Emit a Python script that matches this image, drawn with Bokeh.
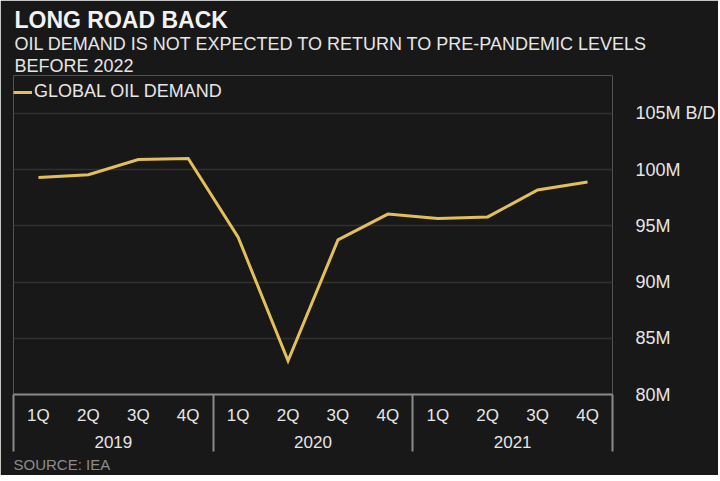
from bokeh.plotting import figure
from bokeh.models import (Range1d, LinearAxis, FixedTicker, Title, Grid,
                          Legend, LegendItem, ColumnDataSource)
from bokeh.embed import file_html
from bokeh.resources import INLINE

# ---- data ----
years = ["2019", "2020", "2021"]
quarters = ["1Q", "2Q", "3Q", "4Q"]
demand = [99.3, 99.55, 100.9, 101.0, 94.0, 83.0, 93.75, 96.05, 95.65, 95.8, 98.2, 98.9]
y_ticks = [80, 85, 90, 95, 100, 105]
y_labels = ["80M", "85M", "90M", "95M", "100M", "105M B/D"]
title_text = "LONG ROAD BACK"
subtitle_lines = ["OIL DEMAND IS NOT EXPECTED TO RETURN TO PRE-PANDEMIC LEVELS", "BEFORE 2022"]
series_name = "GLOBAL OIL DEMAND"
source_text = "SOURCE: IEA"

nq = len(quarters)
n = len(years) * nq
xs = [i + 0.5 for i in range(n)]                      # slot centres
q_labels = {x: quarters[i % nq] for i, x in enumerate(xs)}
year_pos = [g * nq + nq / 2 for g in range(len(years))]
year_labels = dict(zip(year_pos, years))
group_bounds = [g * nq for g in range(len(years) + 1)]

BG = "#181818"
FONT = "Liberation Sans"
TXT = "#e6e6e6"
GOLD = "#e3bf5a"
BOX = "#8a8a8a"

src = ColumnDataSource(dict(x=xs, y=demand))

p = figure(x_range=Range1d(0, n), y_range=Range1d(80, 108.38),
           frame_width=599, frame_height=319,
           min_border_left=13, min_border_right=100, min_border_top=75, min_border_bottom=0,
           output_backend="svg", toolbar_location=None, title=None,
           x_axis_location=None, y_axis_location="right",
           background_fill_color=BG, border_fill_color=BG, outline_line_color=None)

# remove default grids, add horizontal grid only
p.center = [c for c in p.center if not isinstance(c, Grid)]
p.add_layout(Grid(dimension=1, ticker=FixedTicker(ticks=y_ticks),
                  grid_line_color="#303030", grid_line_width=1.5))

# line
r = p.line(x="x", y="y", source=src, line_color=GOLD, line_width=3, line_join="miter")

# quarter axis (minor ticks draw the group box separators)
qa = LinearAxis(ticker=FixedTicker(ticks=xs, minor_ticks=group_bounds),
                major_label_overrides=q_labels,
                axis_line_color=BOX, axis_line_width=2,
                major_tick_line_color=None,
                minor_tick_line_color=BOX, minor_tick_line_width=2,
                minor_tick_out=57, minor_tick_in=0,
                major_tick_out=0, major_tick_in=0, major_label_standoff=-46,
                major_label_text_font=FONT, major_label_text_font_size="17px",
                major_label_text_color=TXT)
p.add_layout(qa, "below")

# year axis
ya2 = LinearAxis(ticker=FixedTicker(ticks=year_pos), major_label_overrides=year_labels,
                 axis_line_color=None, major_tick_line_color=None, minor_tick_line_color=None,
                 major_tick_out=0, major_tick_in=0, major_label_standoff=8,
                 major_label_text_font=FONT, major_label_text_font_size="17px",
                 major_label_text_color=TXT)
p.add_layout(ya2, "below")

# y axis
ya = p.yaxis[0]
ya.ticker = FixedTicker(ticks=y_ticks)
ya.major_label_overrides = dict(zip(y_ticks, y_labels))
ya.axis_line_color = None
ya.major_tick_line_color = None
ya.minor_tick_line_color = None
ya.major_tick_out = 0
ya.major_label_standoff = 23
ya.major_label_text_font = FONT
ya.major_label_text_font_size = "18px"
ya.major_label_text_color = TXT

# legend (inside the frame, near the top-left)
legend = Legend(items=[LegendItem(label=series_name, renderers=[r])],
                location=(0, 292), orientation="horizontal",
                label_text_font=FONT, label_text_font_size="18px", label_text_color=TXT,
                glyph_width=19, glyph_height=16, label_standoff=2,
                padding=0, margin=0, spacing=0,
                background_fill_alpha=0, border_line_color=None)
p.add_layout(legend)

# titles (added bottom-up)
p.add_layout(Title(text=subtitle_lines[1], align="left", text_font=FONT, text_font_size="18px",
                   text_font_style="normal", text_color=TXT, offset=1, standoff=0), "above")
p.add_layout(Title(text=subtitle_lines[0], align="left", text_font=FONT, text_font_size="18px",
                   text_font_style="normal", text_color=TXT, offset=1, standoff=0), "above")
p.add_layout(Title(text=title_text, align="left", text_font=FONT, text_font_size="23px",
                   text_font_style="bold", text_color="#f2f2f2", offset=1, standoff=-3), "above")

# source
p.add_layout(Title(text=source_text, align="left", text_font=FONT, text_font_size="15px",
                   text_font_style="normal", text_color="#8c8c8c", offset=0, standoff=6), "below")

html = file_html(p, INLINE)
html = html.replace("<body>", '<body style="background-color:#181818;">', 1)
open("out.html", "w").write(html)
